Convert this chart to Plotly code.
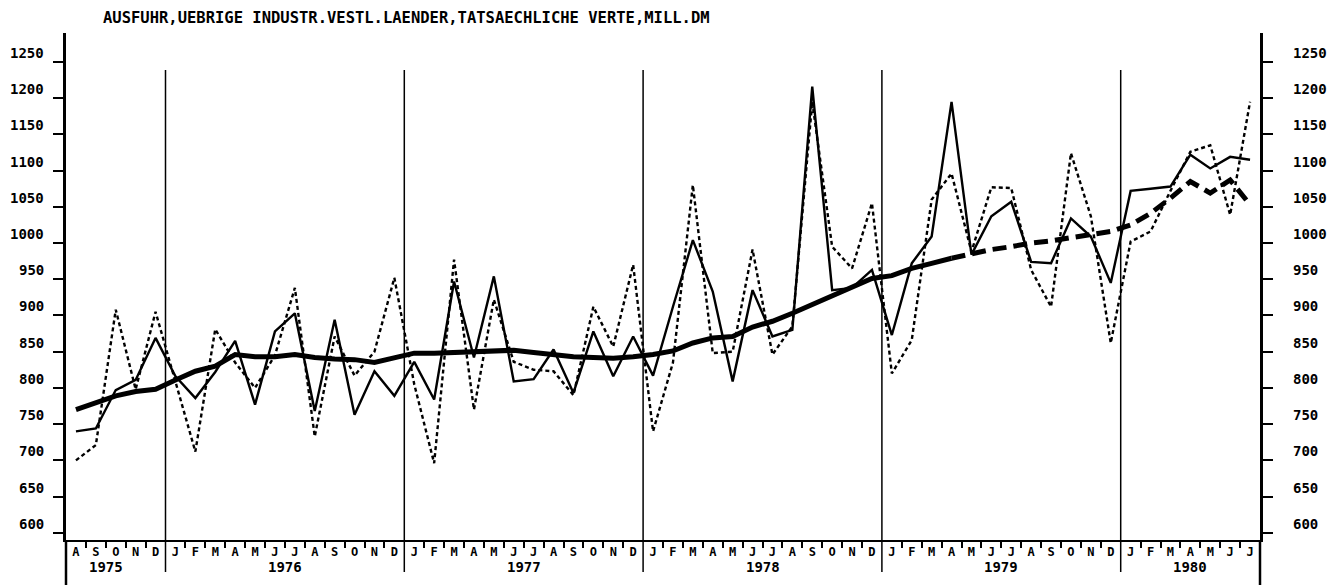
import plotly.graph_objects as go

# ---------------- data ----------------
month_letters = ["A", "S", "O", "N", "D"] + ["J", "F", "M", "A", "M", "J", "J", "A", "S", "O", "N", "D"] * 4 + ["J", "F", "M", "A", "M", "J", "J"]
years = ["1975", "1976", "1977", "1978", "1979", "1980"]
year_label_pos = [1.5, 10.5, 22.5, 34.5, 46.5, 56.0]
year_breaks = [4.5, 16.5, 28.5, 40.5, 52.5]

# original values (dotted)
original = [700, 721, 908, 798, 905,
            808, 712, 881, 835, 800, 845, 938, 733, 871, 817, 850, 952,
            805, 696, 977, 770, 922, 836, 825, 823, 790, 912, 857, 970,
            740, 835, 1080, 848, 850, 991, 846, 885, 1195, 995, 965, 1055,
            820, 866, 1060, 1096, 988, 1077, 1076, 963, 912, 1124, 1037, 862,
            1002, 1016, 1072, 1126, 1135, 1039, 1195]

# seasonally adjusted values (thin solid)
adjusted = [740, 744, 797, 811, 869,
            816, 786, 822, 865, 777, 878, 903, 768, 894, 763, 823, 789,
            836, 784, 947, 842, 954, 809, 812, 853, 793, 878, 816, 871,
            817, 912, 1004, 933, 809, 935, 871, 880, 1216, 935, 938, 963,
            873, 972, 1009, 1195, 984, 1037, 1057, 974, 972, 1034, 1009, 945,
            1072, 1075, 1078, 1122, 1103, 1119, 1115]

# trend (thick line; dashed from the split index on)
trend = [770, 779, 789, 795, 798,
         811, 823, 830, 846, 843, 843, 846, 842, 840, 839, 835, 841,
         848, 848, 849, 849, 850, 852, 849, 846, 843, 842, 841, 843,
         846, 851, 862, 869, 871, 884, 892, 903, 915, 926, 938, 951,
         955, 965, 972, 979, 985, 991, 995, 1000, 1003, 1007, 1011, 1016,
         1025, 1041, 1062, 1085, 1069, 1087, 1053]
trend_split = 44

y_ticks = [600, 650, 700, 750, 800, 850, 900, 950, 1000, 1050, 1100, 1150, 1200, 1250]

title_text = "AUSFUHR,UEBRIGE INDUSTR.VESTL.LAENDER,TATSAECHLICHE VERTE,MILL.DM"

# ---------------- figure ----------------
x_idx = list(range(len(month_letters)))
FONT = "DejaVu Sans Mono"

fig = go.Figure()
fig.add_trace(go.Scatter(x=x_idx, y=original, mode="lines",
                         line=dict(color="black", width=2.4, dash="4px,3px"),
                         showlegend=False, hoverinfo="skip"))
fig.add_trace(go.Scatter(x=x_idx, y=adjusted, mode="lines",
                         line=dict(color="black", width=2.4),
                         showlegend=False, hoverinfo="skip"))
fig.add_trace(go.Scatter(x=x_idx[:trend_split + 1], y=trend[:trend_split + 1], mode="lines",
                         line=dict(color="black", width=5),
                         showlegend=False, hoverinfo="skip"))
fig.add_trace(go.Scatter(x=x_idx[trend_split:], y=trend[trend_split:], mode="lines",
                         line=dict(color="black", width=5, dash="14px,7px"),
                         showlegend=False, hoverinfo="skip"))
# empty trace to realise the right-hand axis
fig.add_trace(go.Scatter(x=[None], y=[None], yaxis="y2", showlegend=False, hoverinfo="skip"))

ycommon = dict(range=[590, 1290], tickmode="array", tickvals=y_ticks,
               showticklabels=False, ticks="outside", ticklen=10,
               tickwidth=2, tickcolor="black", showline=True, linewidth=2.5,
               linecolor="black", showgrid=False, zeroline=False, automargin=False)

minor_vals = [k - 0.5 for k in range(1, len(month_letters)) if (k - 0.5) not in year_breaks]

# the page body adds an 8px offset, so the figure is 8px smaller and margins compensate
fig.update_layout(
    width=1333, height=577,
    margin=dict(l=58, r=81, t=25, b=45, autoexpand=False),
    paper_bgcolor="white", plot_bgcolor="white",
    title=dict(text=title_text, x=(103 - 66) / 1194, xref="paper", xanchor="left",
               y=1 - 10 / 577, yref="container", yanchor="middle",
               font=dict(family=FONT, size=15.5, color="black", weight="bold")),
    xaxis=dict(range=[-0.5, len(month_letters) - 0.5], tickmode="array",
               tickvals=x_idx, ticktext=month_letters, ticks="",
               showline=True, linewidth=2, linecolor="black",
               showgrid=False, zeroline=False, automargin=False,
               tickfont=dict(family=FONT, size=12, color="black", weight="bold"),
               minor=dict(tickmode="array", tickvals=minor_vals, ticks="outside",
                          ticklen=6, tickwidth=1.5, tickcolor="black")),
    yaxis=dict(side="left", **ycommon),
    yaxis2=dict(side="right", overlaying="y", anchor="x", **ycommon),
)

# y tick labels on both sides (sitting slightly above their tick)
tick_font = dict(family=FONT, size=14, color="black", weight="bold")
for v in y_ticks:
    fig.add_annotation(text=str(v), x=0, xref="paper", xanchor="right", xshift=-20,
                       y=v, yref="y", yanchor="middle", yshift=9,
                       showarrow=False, font=tick_font)
    fig.add_annotation(text=str(v), x=1, xref="paper", xanchor="left", xshift=31,
                       y=v, yref="y", yanchor="middle", yshift=9,
                       showarrow=False, font=tick_font)

# axis extensions below the plot area
bottom_paper = -45 / 507
for xp in (0, 1):
    fig.add_shape(type="line", xref="paper", yref="paper", x0=xp, x1=xp,
                  y0=bottom_paper, y1=0, line=dict(color="black", width=2.5))

# year separators
for xb in year_breaks:
    fig.add_shape(type="line", xref="x", yref="paper", x0=xb, x1=xb,
                  y0=-32 / 507, y1=(540 - 70) / 507, line=dict(color="black", width=1.5))

# year labels
for yr, pos in zip(years, year_label_pos):
    fig.add_annotation(text=yr, x=pos, xref="x", y=-27 / 507, yref="paper",
                       yanchor="middle", showarrow=False,
                       font=dict(family=FONT, size=14, color="black", weight="bold"))

fig.write_html("out.html")
